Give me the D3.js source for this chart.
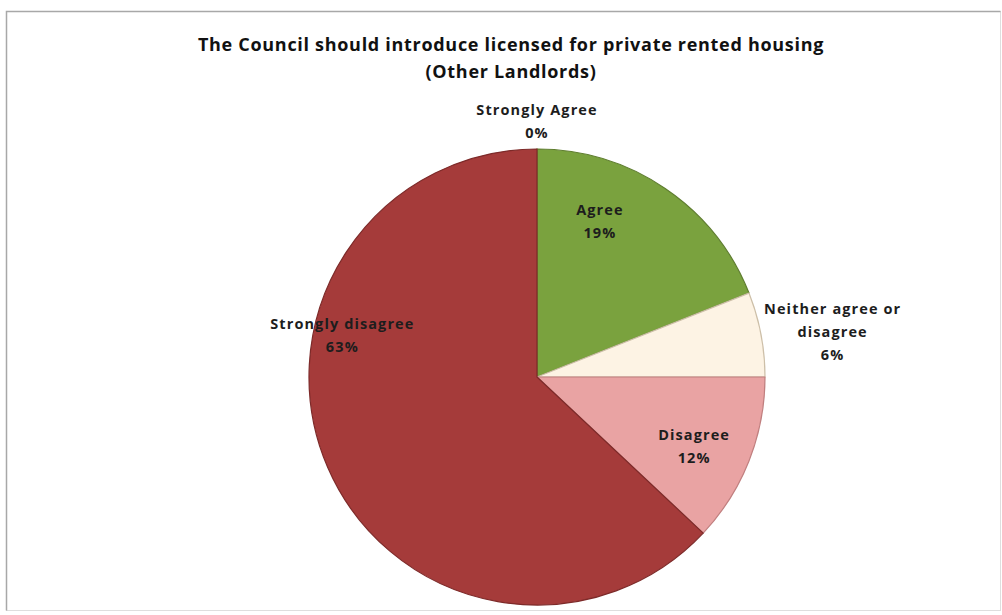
<!DOCTYPE html>
<html>
<head>
<meta charset="utf-8">
<script src="https://cdn.jsdelivr.net/npm/d3@7"></script>
<style>
  html, body { margin: 0; padding: 0; background: #fff; }
  svg { display: block; }
</style>
</head>
<body>
<svg id="chart" width="1002" height="615"></svg>
<script>
// Survey responses (Other Landlords)
const categories = ["Strongly Agree", "Agree", "Neither agree or disagree", "Disagree", "Strongly disagree"];
const percents = [0, 19, 6, 12, 63];
const labelLines = [
  ["Strongly Agree"],
  ["Agree"],
  ["Neither agree or", "disagree"],
  ["Disagree"],
  ["Strongly disagree"]
];
const titleLines = [
  "The Council should introduce licensed for private rented housing",
  "(Other Landlords)"
];

const fills = ["#c0504d", "#7aa23e", "#fdf3e4", "#e9a3a3", "#a53b3a"];
const edges = ["#8e3532", "#5e7d2e", "#cdbfa8", "#c07f7f", "#7d2a29"];

// Label anchors in polar form around the pie centre: angle (deg, clockwise from 12 o'clock) and distance
const labelPlacement = [
  { angle: 0, dist: 256 },
  { angle: 22, dist: 168 },
  { angle: 81.4, dist: 299 },
  { angle: 114, dist: 172 },
  { angle: 282, dist: 199 }
];

const svg = d3.select("#chart");
const cx = 537, cy = 377, R = 228;

// chart frame
svg.append("rect")
  .attr("x", 6.5).attr("y", 11.5)
  .attr("width", 994).attr("height", 599)
  .attr("fill", "#fff")
  .attr("stroke", "#dedede").attr("stroke-width", 1);
svg.append("path")
  .attr("d", "M6.5,610.5V11.5H1000.5")
  .attr("fill", "none").attr("stroke", "#a8a8a8").attr("stroke-width", 1.5);

// title
const title = svg.append("text")
  .attr("text-anchor", "middle")
  .attr("font-family", "'Open Sans', sans-serif")
  .attr("font-weight", "bold")
  .attr("font-size", 18)
  .attr("letter-spacing", 0.7)
  .attr("fill", "#111");
titleLines.forEach((t, i) => {
  title.append("tspan").attr("x", 511).attr("y", 51 + i * 27).text(t);
});

const data = categories.map((c, i) => ({ name: c, value: percents[i], i }));

const pie = d3.pie()
  .value(d => d.value)
  .sort(null)
  .startAngle(0)
  .endAngle(2 * Math.PI);

const arc = d3.arc().innerRadius(0).outerRadius(R);

const g = svg.append("g").attr("transform", `translate(${cx},${cy})`);

g.selectAll("path.slice")
  .data(pie(data))
  .join("path")
  .attr("class", "slice")
  .attr("d", arc)
  .attr("fill", d => fills[d.data.i])
  .attr("stroke", d => edges[d.data.i])
  .attr("stroke-width", 1.2)
  .attr("stroke-linejoin", "round");

// data labels
const lbl = svg.append("g")
  .attr("font-family", "'Open Sans', sans-serif")
  .attr("font-weight", "bold")
  .attr("font-size", 14.5)
  .attr("letter-spacing", 1.1)
  .attr("fill", "#1d1d1d")
  .attr("text-anchor", "middle");

data.forEach((d, i) => {
  const p = labelPlacement[i];
  const a = p.angle * Math.PI / 180;
  const x = cx + p.dist * Math.sin(a);
  const y = cy - p.dist * Math.cos(a);
  const lines = labelLines[i].concat([d3.format(".0f")(d.value) + "%"]);
  const lh = 23;
  const y0 = y - (lines.length - 1) * lh / 2 + 5;
  const t = lbl.append("text");
  lines.forEach((s, k) => {
    t.append("tspan").attr("x", x).attr("y", y0 + k * lh).text(s);
  });
});
</script>
</body>
</html>
